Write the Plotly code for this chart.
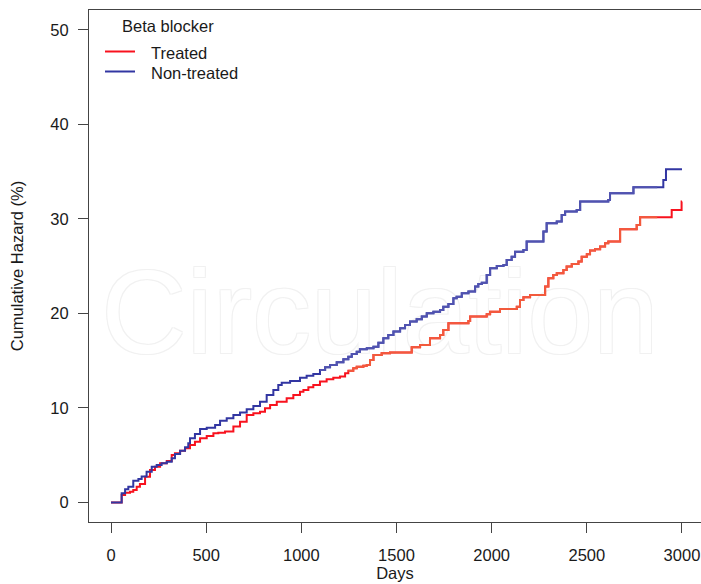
import plotly.graph_objects as go

# Cumulative hazard step curves (days, %) by beta-blocker status
treated_days = [0, 38, 56, 74, 100, 117, 135, 152, 179, 205, 231, 258, 293, 319, 336, 363,
                389, 415, 441, 468, 503, 538, 564, 599, 643, 678, 713, 748, 783, 809, 836,
                871, 923, 958, 993, 1011, 1037, 1063, 1098, 1133, 1168, 1203, 1230, 1247,
                1273, 1291, 1326, 1344, 1361, 1379, 1422, 1466, 1580, 1624, 1676, 1729,
                1746, 1773, 1878, 1887, 1974, 1992, 2044, 2132, 2149, 2167, 2202, 2281,
                2298, 2324, 2342, 2377, 2394, 2421, 2456, 2473, 2500, 2517, 2543, 2570,
                2596, 2613, 2675, 2762, 2780, 2946, 2998, 3000]
treated_haz = [0.0, 0.0, 0.80, 1.04, 1.15, 1.32, 1.68, 1.96, 2.73, 3.44, 3.79, 4.15, 4.39,
               5.03, 5.20, 5.49, 5.73, 6.09, 6.44, 6.79, 7.04, 7.32, 7.39, 7.50, 8.03, 8.55,
               9.26, 9.44, 9.61, 9.97, 10.32, 10.67, 11.02, 11.38, 11.73, 11.91, 12.19,
               12.43, 12.79, 13.03, 13.21, 13.32, 13.67, 13.95, 14.20, 14.37, 14.48, 14.55,
               15.08, 15.61, 15.79, 15.86, 16.42, 16.67, 17.37, 17.73, 18.25, 18.96, 19.21,
               19.67, 19.91, 20.19, 20.48, 20.72, 21.43, 21.71, 21.96, 22.84, 23.72, 24.08,
               24.25, 24.60, 24.96, 25.24, 25.49, 26.01, 26.26, 26.65, 26.79, 27.07, 27.43,
               27.60, 28.91, 29.37, 30.18, 30.95, 31.83, 31.83]

nontreated_days = [0, 38, 56, 74, 91, 117, 144, 161, 187, 214, 240, 266, 293, 319, 336, 363,
                   389, 406, 415, 441, 468, 503, 547, 573, 608, 643, 678, 713, 748, 783, 818,
                   853, 879, 897, 941, 993, 1028, 1063, 1098, 1125, 1151, 1186, 1221, 1247,
                   1265, 1291, 1308, 1344, 1379, 1405, 1431, 1457, 1484, 1519, 1545, 1571,
                   1606, 1633, 1659, 1694, 1729, 1746, 1773, 1799, 1816, 1843, 1878, 1913,
                   1930, 1948, 1974, 1992, 2027, 2062, 2079, 2105, 2123, 2167, 2184, 2272,
                   2289, 2342, 2368, 2386, 2447, 2465, 2613, 2622, 2745, 2902, 2916, 3000]
nontreated_haz = [0.0, 0.0, 0.97, 1.40, 1.68, 2.31, 2.49, 2.74, 3.26, 3.79, 3.97, 4.15, 4.32,
                  4.68, 5.13, 5.49, 5.84, 6.26, 6.79, 7.25, 7.78, 7.92, 8.20, 8.66, 8.91, 9.26,
                  9.51, 9.86, 10.21, 10.67, 11.38, 11.91, 12.43, 12.68, 12.86, 13.21, 13.42,
                  13.60, 14.02, 14.30, 14.55, 14.83, 15.15, 15.43, 15.71, 15.96, 16.21, 16.31,
                  16.49, 16.91, 17.37, 17.72, 18.08, 18.43, 18.78, 19.14, 19.38, 19.67, 20.02,
                  20.19, 20.37, 20.72, 21.00, 21.61, 21.78, 22.14, 22.31, 22.84, 23.12, 23.26,
                  24.07, 24.78, 25.03, 25.13, 25.66, 26.01, 26.54, 26.72, 27.60, 28.66, 29.54,
                  29.72, 30.42, 30.78, 30.95, 31.83, 32.01, 32.72, 33.35, 34.13, 35.26, 35.26]

x_ticks = [0, 500, 1000, 1500, 2000, 2500, 3000]
y_ticks = [0, 10, 20, 30, 40, 50]

FONT = "Liberation Sans, Arial, sans-serif"
TXT = "#1a1a1a"
AX = "#444444"

RED, RED_SOFT = "#f8121e", "#f25a3c"
BLUE, BLUE_SOFT = "#3236a2", "#5053b0"

# band of the plot covered by the faint masthead overlay
SOFT_MIN_Y, SOFT_MAX_X = 13.8, 2870

# plot-area pixel geometry, used to place the hand-drawn key
L, R, T, B = 89, 701, 10, 522


def px(p):
    return (p - L) / (R - L)


def py(q):
    return (B - q) / (B - T)


def soft_part(xs, ys):
    """Points of a step curve lying inside the overlay band."""
    sx, sy = [], []
    for x, y in zip(xs, ys):
        if y >= SOFT_MIN_Y and x <= SOFT_MAX_X:
            sx.append(x)
            sy.append(y)
    if sx:
        sx.append(SOFT_MAX_X)
        sy.append(sy[-1])
    return sx, sy


fig = go.Figure()

# faint masthead lettering behind the curves
fig.add_trace(go.Scatter(
    x=[1413], y=[18.9], mode="text", text=["Circulation"],
    textposition="middle center", showlegend=False, hoverinfo="skip",
    textfont=dict(family=FONT, size=118, color="white",
                  shadow="1px 1px 0 #f1f1f1, -1px -1px 0 #f1f1f1, 1px -1px 0 #f1f1f1, -1px 1px 0 #f1f1f1"),
))

series = [("Treated", treated_days, treated_haz, RED, RED_SOFT),
          ("Non-treated", nontreated_days, nontreated_haz, BLUE, BLUE_SOFT)]

for name, xs, ys, c, cs in series:
    fig.add_trace(go.Scatter(x=xs, y=ys, mode="lines", name=name, showlegend=False,
                             line=dict(color=c, width=2, shape="hv"), hoverinfo="skip"))
    sx, sy = soft_part(xs, ys)
    fig.add_trace(go.Scatter(x=sx, y=sy, mode="lines", showlegend=False,
                             line=dict(color=cs, width=2, shape="hv"), hoverinfo="skip"))

# key: title plus one line sample and label per group
shapes, annotations = [], []
annotations.append(dict(x=px(120), y=py(26), xref="paper", yref="paper", text="Beta blocker",
                        showarrow=False, xanchor="left", yanchor="middle",
                        font=dict(size=16.5, color=TXT)))
for i, (name, _, _, c, _) in enumerate(series):
    yy = 51.5 + 20 * i
    shapes.append(dict(type="line", xref="paper", yref="paper",
                       x0=px(105), x1=px(135), y0=py(yy), y1=py(yy),
                       line=dict(color=c, width=2)))
    annotations.append(dict(x=px(149), y=py(yy + 1.5), xref="paper", yref="paper", text=name,
                            showarrow=False, xanchor="left", yanchor="middle",
                            font=dict(size=16.5, color=TXT)))

fig.update_layout(
    width=701, height=584,
    margin=dict(l=L, r=701 - R, t=T, b=584 - B),
    plot_bgcolor="white", paper_bgcolor="white",
    font=dict(family=FONT, size=16.5, color=TXT),
    showlegend=False,
    shapes=shapes, annotations=annotations,
)

fig.update_xaxes(
    range=[-115.6, 3100], tickvals=x_ticks, ticktext=[str(v) for v in x_ticks],
    showgrid=False, zeroline=False,
    showline=True, linecolor=AX, linewidth=1, mirror=True,
    ticks="outside", ticklen=10, tickcolor=AX, tickwidth=1,
    ticklabelstandoff=8,
    title=dict(text="Days", standoff=2, font=dict(size=16.5, color=TXT)),
    automargin=False,
)
fig.update_yaxes(
    range=[-2.06, 52.1], tickvals=y_ticks, ticktext=[str(v) for v in y_ticks],
    showgrid=False, zeroline=False,
    showline=True, linecolor=AX, linewidth=1,
    ticks="outside", ticklen=10, tickcolor=AX, tickwidth=1,
    ticklabelstandoff=6,
    title=dict(text="Cumulative Hazard (%)", standoff=22, font=dict(size=16.5, color=TXT)),
    automargin=False,
)

fig.write_html("out.html")
